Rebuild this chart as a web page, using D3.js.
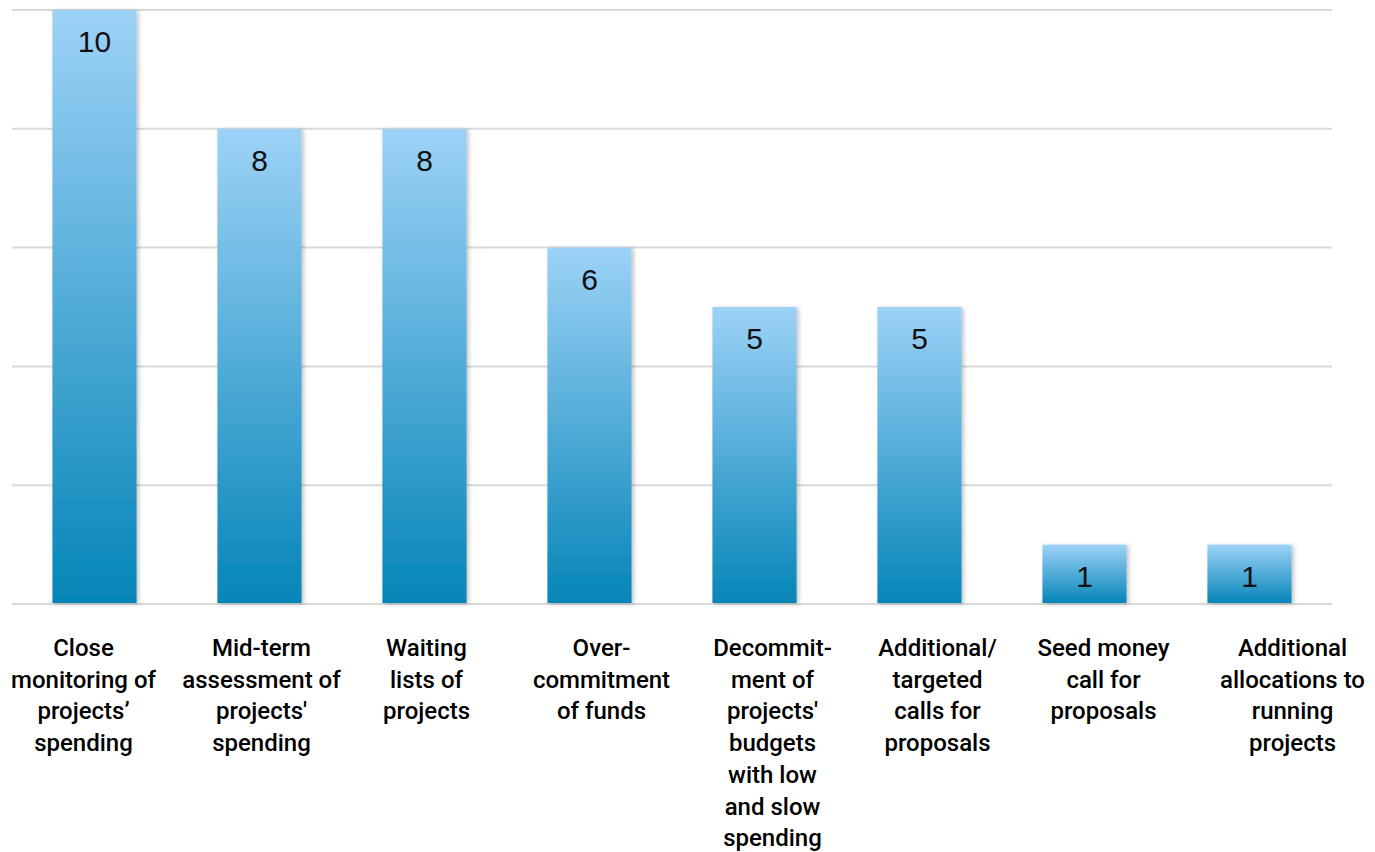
<!DOCTYPE html>
<html>
<head>
<meta charset="utf-8">
<script src="https://cdn.jsdelivr.net/npm/d3@7"></script>
<style>
  html, body { margin: 0; padding: 0; background: #fff; }
  svg { display: block; }
</style>
</head>
<body>
<svg id="chart" width="1375" height="852"></svg>
<script>
// Measures used to manage project spending (number of programmes)
const categories = [
  ["Close", "monitoring of", "projects\u2019", "spending"],
  ["Mid-term", "assessment of", "projects'", "spending"],
  ["Waiting", "lists of", "projects"],
  ["Over-", "commitment", "of funds"],
  ["Decommit-", "ment of", "projects'", "budgets", "with low", "and slow", "spending"],
  ["Additional/", "targeted", "calls for", "proposals"],
  ["Seed money", "call for", "proposals"],
  ["Additional", "allocations to", "running", "projects"]
];
const values = [10, 8, 8, 6, 5, 5, 1, 1];
const yTicks = [0, 2, 4, 6, 8, 10];

const svg = d3.select("#chart");
const margin = { left: 12, right: 43, top: 10, bottom: 248 };
const W = 1375, H = 852;

// horizontal nudge of each wrapped category label relative to its bar centre
const labelNudge = [-11, 2, 2, 12, 18, 18, 19, 43];

const x = d3.scaleBand()
  .domain(d3.range(categories.length))
  .range([margin.left, W - margin.right])
  .paddingInner(0.49)
  .paddingOuter(0.245);

const y = d3.scaleLinear()
  .domain([0, 10])
  .range([H - margin.bottom, margin.top]);

const defs = svg.append("defs");
const grad = defs.append("linearGradient")
  .attr("id", "barGrad")
  .attr("x1", 0).attr("y1", 0).attr("x2", 0).attr("y2", 1);
grad.append("stop").attr("offset", "0%").attr("stop-color", "#9dd2f7");
grad.append("stop").attr("offset", "100%").attr("stop-color", "#0585b8");

const shadow = defs.append("filter").attr("id", "shadow")
  .attr("x", "-10%").attr("y", "-10%").attr("width", "130%").attr("height", "130%");
shadow.append("feDropShadow")
  .attr("dx", 2).attr("dy", 1).attr("stdDeviation", 2)
  .attr("flood-color", "#000").attr("flood-opacity", 0.25);

// horizontal gridlines
svg.append("g")
  .selectAll("line")
  .data(yTicks)
  .join("line")
  .attr("x1", margin.left)
  .attr("x2", W - margin.right)
  .attr("y1", d => y(d))
  .attr("y2", d => y(d))
  .attr("stroke", "#d9d9d9")
  .attr("stroke-width", 2);

// bars
svg.append("g")
  .selectAll("rect")
  .data(values)
  .join("rect")
  .attr("x", (d, i) => x(i))
  .attr("y", d => y(d))
  .attr("width", x.bandwidth())
  .attr("height", d => y(0) - y(d) - 1)
  .attr("fill", "url(#barGrad)")
  .attr("filter", "url(#shadow)");

// value labels inside bar tops
svg.append("g")
  .selectAll("text")
  .data(values)
  .join("text")
  .attr("x", (d, i) => x(i) + x.bandwidth() / 2)
  .attr("y", d => y(d) + 42)
  .attr("text-anchor", "middle")
  .attr("font-family", "'Liberation Sans', Arial, sans-serif")
  .attr("font-size", 30)
  .attr("fill", "#111")
  .text(d => d);

// category labels
const lbl = svg.append("g")
  .selectAll("text")
  .data(categories)
  .join("text")
  .attr("x", (d, i) => x(i) + x.bandwidth() / 2 + labelNudge[i])
  .attr("y", 656)
  .attr("text-anchor", "middle")
  .attr("font-family", "Roboto, 'Liberation Sans', Arial, sans-serif")
  .attr("font-size", 24)
  .attr("font-weight", 500)
  .attr("fill", "#000");
lbl.selectAll("tspan")
  .data(d => d)
  .join("tspan")
  .attr("x", function () { return d3.select(this.parentNode).attr("x"); })
  .attr("dy", (d, j) => j === 0 ? 0 : 31.7)
  .text(d => d);
</script>
</body>
</html>
